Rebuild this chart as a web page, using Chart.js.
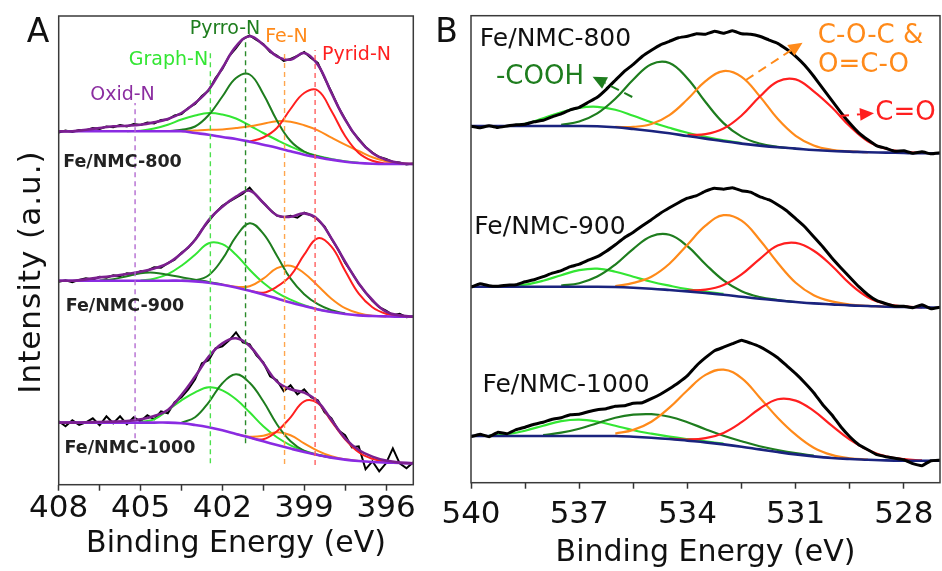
<!DOCTYPE html>
<html>
<head>
<meta charset="utf-8">
<script src="https://cdn.jsdelivr.net/npm/chart.js@4.4.1/dist/chart.umd.min.js"></script>
<style>
  html, body { margin: 0; padding: 0; background: #fff; }
  #wrap { position: relative; width: 942px; height: 571px; overflow: hidden; font-family: 'DejaVu Sans', sans-serif; }
  canvas { position: absolute; top: 0; }
  #chartA { left: 0; }
  #chartB { left: 440px; }
  .lbl { position: absolute; transform: translate(-50%, -50%); white-space: nowrap; line-height: 1; }
</style>
</head>
<body>
<div id="wrap">
  <canvas id="chartA" width="470" height="571" style="width:470px;height:571px"></canvas>
  <canvas id="chartB" width="502" height="571" style="width:502px;height:571px"></canvas>

  <div class="lbl" style="left:29px;top:272px;font-size:31px;letter-spacing:1px;color:#111;transform:translate(-50%,-50%) rotate(-90deg);">Intensity (a.u.)</div>

  <!-- panel A labels -->
  <div class="lbl" style="left:38px;top:29.5px;font-size:33px;color:#111">A</div>
  <div class="lbl" style="left:225px;top:27px;font-size:19px;color:#1e7d1e">Pyrro-N</div>
  <div class="lbl" style="left:286.5px;top:34.5px;font-size:19px;color:#ff8a1a">Fe-N</div>
  <div class="lbl" style="left:168.5px;top:57.8px;font-size:19px;color:#33e633">Graph-N</div>
  <div class="lbl" style="left:356.5px;top:53.3px;font-size:19px;color:#ff1f1f">Pyrid-N</div>
  <div class="lbl" style="left:122.5px;top:93px;font-size:19px;color:#8b2da0">Oxid-N</div>
  <div class="lbl" style="left:122.5px;top:162px;font-size:17.5px;font-weight:bold;color:#222">Fe/NMC-800</div>
  <div class="lbl" style="left:125px;top:306px;font-size:17.5px;font-weight:bold;color:#222">Fe/NMC-900</div>
  <div class="lbl" style="left:130px;top:448px;font-size:17.5px;font-weight:bold;color:#222">Fe/NMC-1000</div>

  <!-- panel B labels -->
  <div class="lbl" style="left:446.5px;top:29.5px;font-size:33px;color:#111">B</div>
  <div class="lbl" style="left:555.5px;top:37px;font-size:25px;color:#111">Fe/NMC-800</div>
  <div class="lbl" style="left:540px;top:75px;font-size:26px;color:#1e7d1e">-COOH</div>
  <div class="lbl" style="left:870.5px;top:34px;font-size:26px;color:#ff8a1a">C-O-C &amp;</div>
  <div class="lbl" style="left:863.5px;top:63px;font-size:26px;color:#ff8a1a">O=C-O</div>
  <div class="lbl" style="left:905.5px;top:111px;font-size:26px;color:#ff1f1f">C=O</div>
  <div class="lbl" style="left:550px;top:225px;font-size:25px;color:#111">Fe/NMC-900</div>
  <div class="lbl" style="left:566px;top:382.5px;font-size:25px;color:#111">Fe/NMC-1000</div>
</div>

<script>
// ---------- N 1s (panel A) ----------
var aGrid = [408, 407.5, 407, 406.5, 406, 405.5, 405, 404.5, 404, 403.5, 403, 402.5, 402, 401.5, 401, 400.5, 400, 399.5, 399, 398.5, 398, 397.5, 397, 396.5, 396, 395.5, 395];
var aFine = [408, 407.75, 407.5, 407.25, 407, 406.75, 406.5, 406.25, 406, 405.75, 405.5, 405.25, 405, 404.75, 404.5, 404.25, 404, 403.75, 403.5, 403.25, 403, 402.75, 402.5, 402.25, 402, 401.75, 401.5, 401.25, 401, 400.75, 400.5, 400.25, 400, 399.75, 399.5, 399.25, 399, 398.75, 398.5, 398.25, 398, 397.75, 397.5, 397.25, 397, 396.75, 396.5, 396.25, 396, 395.75, 395.5, 395.25, 395];
var aTicks = [408, 406.5, 405, 403.5, 402, 400.5, 399, 397.5, 396];
var aTickLabels = ['408', '', '405', '', '402', '', '399', '', '396'];
var aOffsets = [320.7, 168, 21.4];   // stacking offset for 800 / 900 / 1000

var a800Raw = [31.5, 33.5, 32, 34, 33.5, 36, 35, 37.5, 36.8, 39, 37.5, 40, 39, 41.5, 40.5, 44, 44.5, 48.5, 50, 56, 60, 68, 73.5, 86, 95, 108, 116, 125, 128.5, 124, 120, 112, 108.5, 103, 105, 108, 112, 106, 101, 86, 72, 57, 45, 33, 25, 17, 11.5, 7, 5, 2, 1.5, -0.5, 0.5];
var a800Fit = [32.7, 32.7, 34.3, 36, 37.7, 38.3, 39.3, 41.7, 45, 51, 61, 74.3, 96, 117.7, 127.7, 119.3, 107.7, 104.3, 111, 99.3, 71, 44.3, 24.3, 11, 4.3, 1, 0];
var a800Base = [32.7, 32.7, 32.7, 32.7, 32.7, 32.7, 32.7, 32.7, 32.7, 32.7, 31, 29.3, 27, 25, 22.3, 19.3, 16.3, 12.7, 9.3, 6.7, 4.3, 2.3, 1, 0.3, 0, 0, 0];
var a800Graph = [null, null, null, null, null, 32.8, 33.3, 35.5, 39.3, 44.5, 48.5, 51, 49.5, 45.5, 38.5, 31, 24, 17.5, 12, 8, 5, 2.8, 1.3, null, null, null, null];
var a800Pyrro = [null, null, null, null, null, null, null, null, 32.9, 34.2, 37.5, 49, 67.5, 86, 89.5, 70, 43.5, 23, 12.5, 7.5, 4.5, null, null, null, null, null, null];
var a800FeN = [null, null, null, null, null, null, null, null, null, 32.7, 33.5, 34.3, 34.5, 36, 37.8, 40.3, 42.8, 42.2, 38.8, 33.7, 26.3, 19.3, 13, 6.8, 2.8, 0.8, 0.2];
var a800Pyrid = [null, null, null, null, null, null, null, null, null, null, null, null, null, null, 22.6, 26.5, 36, 55, 71, 73.5, 53, 28, 11, 3.2, 0.6, 0.1, null];

var a900Raw = [35, 36.5, 34.5, 36.8, 38.5, 37, 40, 39, 41.5, 40.5, 43.5, 42.5, 45.5, 46, 49.5, 49, 53.5, 57, 64, 69, 77, 87, 95.5, 104, 111, 115, 119, 123, 129, 121, 114, 107, 101, 99.5, 101, 99, 104, 101.5, 97, 90, 78, 67, 54, 44, 33, 24, 16, 9.5, 6, 1.5, 3, -0.5, 0.5];
var a900Fit = [36, 36, 37.3, 39.3, 40.7, 42.7, 45, 48.3, 53.3, 63.3, 76.7, 96.7, 110, 120, 126, 114, 101.3, 100, 103.3, 97.3, 78.3, 55, 33.3, 16.7, 5, 1.3, 0];
var a900Base = [36, 36, 36, 36, 36, 36, 36, 36, 36, 36, 35.3, 34, 32, 29.3, 26, 22.3, 18.3, 14.3, 10.7, 7.3, 4.7, 2.7, 1.3, 0.7, 0.3, 0, 0];
var a900Oxid = [null, null, null, 36.2, 37.5, 40.5, 43.5, 44, 42, 39.5, 37, 34.8, 32.3, null, null, null, null, null, null, null, null, null, null, null, null, null, null];
var a900Graph = [null, null, null, null, null, null, 36.2, 38, 42.5, 51, 62, 73.5, 72.5, 62, 47, 34, 24, 17, 11.5, 7.5, 4.8, null, null, null, null, null, null];
var a900Pyrro = [null, null, null, null, null, null, null, null, null, 36.2, 36.5, 41.5, 57.5, 80, 93.5, 83, 61, 38, 22.5, 12.5, 6.5, 3.2, null, null, null, null, null];
var a900FeN = [null, null, null, null, null, null, null, null, null, null, null, null, 32.3, 30, 30.5, 38, 48.5, 51, 43.5, 31, 18, 8.5, 3.5, 1, 0.3, null, null];
var a900Pyrid = [null, null, null, null, null, null, null, null, null, null, null, null, null, null, 26, 24, 30, 41, 62, 78.5, 70, 46, 23, 9.5, 3, 0.8, null];

var a1000Raw = [42, 37, 43, 38.5, 41, 45, 38, 47, 40, 47, 39, 46, 42, 48, 44, 52, 50, 61, 66, 74, 84, 100, 103, 115, 117, 123, 131, 121, 119, 108, 101, 87, 83, 72, 78, 69, 74, 66, 63, 51, 45, 33, 28, 16, 17, -6, 2, -8, 0, 15, 0, -5, 1];
var a1000Fit = [40.7, 40.7, 41, 41.3, 41.7, 42.3, 44, 47.3, 53.3, 68.3, 86.7, 106.7, 120, 125, 117.3, 100, 81.7, 74, 70.7, 61.7, 43.3, 25, 13.3, 6.7, 2.7, 0.7, 0];
var a1000Base = [40.7, 40.7, 40.7, 40.7, 40.7, 40.7, 40.7, 40.7, 40.7, 40, 38.3, 36, 33, 29.3, 25.7, 22, 18.3, 14.7, 11.3, 8.3, 5.7, 3.7, 2.3, 1.3, 0.7, 0.3, 0];
var a1000Graph = [null, null, null, null, null, null, 41.5, 44, 53, 63, 71, 76, 73, 64, 51, 37, 26, 18, 12.5, 8.5, 5.8, null, null, null, null, null, null];
var a1000Pyrro = [null, null, null, null, null, null, null, null, null, 40.5, 46, 61, 80, 89, 80.5, 62, 39, 22, 12.5, 8.3, 5.7, null, null, null, null, null, null];
var a1000FeN = [null, null, null, null, null, null, null, null, null, null, null, null, null, 29.3, 26.5, 27.5, 31, 28, 20, 12.5, 7, 4, 2.4, null, null, null, null];
var a1000Pyrid = [null, null, null, null, null, null, null, null, null, null, null, null, null, null, 25.7, 24, 32, 46, 62, 60, 42, 24, 11, 4.5, 1.5, 0.4, null];

// peak-position guide lines (Oxid, Graph, Pyrro, Fe-N, Pyrid)
var guideEnergy = [405.2, 402.44, 401.15, 399.72, 398.6];
var guideTop = [381.7, 434.7, 446.7, 434.7, 434.7];
var guideBottom = [46.4, 21.4, 41.4, 20.7, 19.7];

// ---------- O 1s (panel B) ----------
var bGrid = [540, 539.5, 539, 538.5, 538, 537.5, 537, 536.5, 536, 535.5, 535, 534.5, 534, 533.5, 533, 532.5, 532, 531.5, 531, 530.5, 530, 529.5, 529, 528.5, 528, 527.5, 527];
var bFine = [540, 539.75, 539.5, 539.25, 539, 538.75, 538.5, 538.25, 538, 537.75, 537.5, 537.25, 537, 536.75, 536.5, 536.25, 536, 535.75, 535.5, 535.25, 535, 534.75, 534.5, 534.25, 534, 533.75, 533.5, 533.25, 533, 532.75, 532.5, 532.25, 532, 531.75, 531.5, 531.25, 531, 530.75, 530.5, 530.25, 530, 529.75, 529.5, 529.25, 529, 528.75, 528.5, 528.25, 528, 527.75, 527.5, 527.25, 527];
var bTicks = [540, 538.5, 537, 535.5, 534, 532.5, 531, 529.5, 528];
var bTickLabels = ['540', '', '537', '', '534', '', '531', '', '528'];
var bOffsets = [329.4, 175, 22];

var b800Raw = [27, 25.5, 27.5, 25.8, 27.3, 28.5, 29, 31.5, 33, 36.5, 39.5, 43.5, 46, 51, 56, 64, 73, 82, 89, 97, 103, 108.5, 112, 115.5, 117, 119.5, 119, 122, 120, 122.5, 119.5, 119, 117, 113.5, 110, 104, 97, 88, 77, 65, 53, 41, 30, 20.5, 13.5, 7.5, 5, 2, 2.5, 0, 1.5, -0.5, 0.5];
var b800Base = [27.3, 27.3, 27.3, 27.3, 27.3, 27.3, 27.3, 27, 26, 24.3, 22.3, 20, 17.3, 14.7, 12, 9.7, 7.7, 6, 4.7, 3.3, 2.3, 1.7, 1, 0.7, 0.3, 0, 0];
var b800Sat = [null, null, 27.3, 29.5, 35, 41, 45.5, 46.5, 43.5, 37.5, 31, 25.5, 20.5, 16.5, 13, 10.2, null, null, null, null, null, null, null, null, null, null, null];
var b800Cooh = [null, null, null, null, null, 28.5, 31.8, 39.9, 54.5, 73.8, 89.1, 90.2, 74.8, 51.3, 30.2, 16.7, 9.8, 6.5, 4.7, null, null, null, null, null, null, null, null];
var b800Coc = [null, null, null, null, null, null, null, null, 26.5, 26.4, 29.3, 38.2, 54, 72.2, 82.2, 76.5, 57.2, 34.5, 17.5, 7.8, 3.5, 1.9, 1, null, null, null, null];
var b800Co = [null, null, null, null, null, null, null, null, null, null, null, null, 18.5, 19.1, 24.7, 37.8, 56.5, 71.9, 73.9, 62, 46, 27, 12, 4.5, 1.5, 0.3, null];

var b900Raw = [20.5, 24, 22, 21.5, 22.5, 23, 26, 28, 31, 34.5, 37, 41, 43.5, 47.5, 51, 56.5, 63, 70, 75.5, 82, 88, 94.5, 100, 105, 109.5, 112, 116.5, 119.5, 118.5, 120, 117, 115.5, 111, 108, 103, 97, 89, 81, 71, 61, 50, 40, 30.5, 21, 13, 7, 4, 1.5, 1.5, 0, 3, -1, 0.5];
var b900Base = [21, 21, 21, 21, 21, 21, 21, 21, 20.7, 20, 19, 17.7, 16.3, 14.7, 13, 11, 9, 7.3, 5.7, 4.3, 3.3, 2.3, 1.7, 1, 0.7, 0.3, 0];
var b900Sat = [null, null, 21.3, 23, 27, 32.5, 37.5, 39, 36, 31, 26, 22, 18.5, 16, 13.8, null, null, null, null, null, null, null, null, null, null, null, null];
var b900Cooh = [null, null, null, null, null, 22, 24.5, 31.1, 43.1, 58.9, 71.5, 72.9, 61.5, 43.5, 27.3, 16.5, 10.7, 7.7, 5.7, null, null, null, null, null, null, null, null];
var b900Coc = [null, null, null, null, null, null, null, null, 21.5, 24.8, 31, 44, 63, 82, 92.5, 87, 68, 45, 25, 12.5, 6.3, 3.2, 1.9, 1, null, null, null];
var b900Co = [null, null, null, null, null, null, null, null, null, null, null, null, 17.2, 18, 22.7, 33.3, 48.6, 62.1, 64.8, 57, 42, 24, 10.5, 3.8, 1.3, 0.3, null];

var b1000Raw = [24, 26.5, 24, 28.5, 27, 31, 33.5, 36.5, 38.5, 41.5, 43, 46, 46.5, 49, 51, 52, 54.5, 55, 57.5, 58, 62, 66.5, 72, 78, 85, 95, 103, 110, 113.5, 117, 120.5, 117.5, 114, 109, 103, 95, 87, 78, 68, 56, 46, 34, 24, 16, 11, 6, 4, 2.5, 1, -3, -5, 0, 0.5];
var b1000Base = [24.7, 24.7, 24.7, 24.7, 24.7, 24.7, 24.7, 24.7, 24.7, 24, 23, 21.7, 20, 18.3, 16.3, 14, 11.3, 8.7, 6.3, 4.3, 2.7, 1.7, 1, 0.3, 0, 0, 0];
var b1000Sat = [null, 25, 26.5, 30, 35, 39.5, 41, 39, 35, 30.5, 27, 24, 21.5, 19.3, 17, null, null, null, null, null, null, null, null, null, null, null, null];
var b1000Cooh = [null, null, null, null, 25.5, 28, 32, 37.5, 43, 46, 46.5, 44, 38.5, 31.5, 25, 19.5, 14.5, 10.7, 7.5, 5, null, null, null, null, null, null, null];
var b1000Coc = [null, null, null, null, null, null, null, null, 27.1, 30.8, 39, 53, 70.5, 85.8, 91.1, 82.6, 63.3, 43, 26, 13, 5.8, 2.4, 1.1, null, null, null, null];
var b1000Co = [null, null, null, null, null, null, null, null, null, null, null, 22, 21.2, 22.5, 27.8, 38.5, 52, 61.5, 60.1, 49.8, 35.1, 21.1, 10.8, 4.4, 1.5, 0.4, null];

// colours
var PURPLE = '#7b1f8f', VIOLET = '#8a2be2', DKGREEN = '#1e7d1e', LTGREEN = '#33e633',
    ORANGE = '#ff8a1a', RED = '#ff1f1f', NAVY = '#1a237e', BLACK = '#000000';

Chart.defaults.font.family = "'DejaVu Sans', sans-serif";
Chart.defaults.color = '#111';

// build one line dataset from an x grid + value list (+ vertical stacking offset)
function line(xs, ys, off, color, width, order, extra) {
    var pts = [];
    xs.forEach(function (x, i) {
        if (ys[i] !== null) pts.push({ x: x, y: ys[i] + off });
    });
    var ds = {
        data: pts,
        borderColor: color,
        borderWidth: width,
        pointRadius: 0,
        tension: 0.4,
        fill: false,
        order: order
    };
    return Object.assign(ds, extra || {});
}

// box round the plot area
var framePlugin = {
    id: 'frame',
    afterDatasetsDraw: function (chart) {
        var a = chart.chartArea, ctx = chart.ctx;
        ctx.save();
        ctx.strokeStyle = '#3a3a3a';
        ctx.lineWidth = 1.5;
        ctx.strokeRect(a.left, a.top, a.right - a.left, a.bottom - a.top);
        ctx.restore();
    }
};

function xScale(min, max, ticks, labels, axisH, tickPad, titlePad) {
    return {
        type: 'linear', reverse: true, min: min, max: max,
        afterBuildTicks: function (s) {
            s.ticks = ticks.map(function (v) { return { value: v }; });
        },
        afterFit: function (s) {
            s.height = axisH;
            s.paddingLeft = 0;
            s.paddingRight = 0;
        },
        ticks: {
            autoSkip: false, maxRotation: 0, padding: tickPad, color: '#111',
            font: { size: 31 },
            callback: function (v, i) { return labels[i]; }
        },
        grid: { drawOnChartArea: false, drawTicks: true, tickLength: 6, tickColor: '#333', tickWidth: 1.5 },
        border: { display: false },
        title: { display: true, text: 'Binding Energy (eV)', color: '#111', font: { size: 30 }, padding: { top: 0, bottom: titlePad } }
    };
}

function yScale(max, width) {
    return {
        min: 0, max: max,
        ticks: { display: false },
        grid: { display: false },
        border: { display: false },
        afterFit: function (s) { s.width = width; }
    };
}

// ---------- Panel A ----------
var aSets = [
    [a800Raw, a800Fit, a800Base, null, a800Graph, a800Pyrro, a800FeN, a800Pyrid],
    [a900Raw, a900Fit, a900Base, a900Oxid, a900Graph, a900Pyrro, a900FeN, a900Pyrid],
    [a1000Raw, a1000Fit, a1000Base, null, a1000Graph, a1000Pyrro, a1000FeN, a1000Pyrid]
];
var aDatasets = [];
aSets.forEach(function (s, k) {
    var off = aOffsets[k];
    aDatasets.push(line(aFine, s[0], off, BLACK, 2, 8, { tension: 0 }));
    aDatasets.push(line(aGrid, s[1], off, PURPLE, 2.6, 1));
    aDatasets.push(line(aGrid, s[2], off, VIOLET, 2.6, 2));
    if (s[3]) aDatasets.push(line(aGrid, s[3], off, DKGREEN, 2, 6));
    aDatasets.push(line(aGrid, s[4], off, LTGREEN, 2, 6));
    aDatasets.push(line(aGrid, s[5], off, DKGREEN, 2, 4));
    aDatasets.push(line(aGrid, s[6], off, ORANGE, 2, 5));
    aDatasets.push(line(aGrid, s[7], off, RED, 2, 3));
});
var guideColors = ['#b36bd1', '#4ce04c', '#2a8a2a', '#ffa64d', '#ff6060'];
guideEnergy.forEach(function (e, i) {
    aDatasets.push({
        data: [{ x: e, y: guideBottom[i] }, { x: e, y: guideTop[i] }],
        borderColor: guideColors[i], borderWidth: 1.4, borderDash: [5, 4],
        pointRadius: 0, fill: false, order: 0
    });
});

new Chart(document.getElementById('chartA').getContext('2d'), {
    type: 'line',
    data: { datasets: aDatasets },
    options: {
        responsive: false, animation: false, devicePixelRatio: 1,
        layout: { padding: { top: 16, right: 56.7, left: 0, bottom: 0 } },
        plugins: { legend: { display: false }, tooltip: { enabled: false } },
        scales: {
            x: xScale(395, 408, aTicks, aTickLabels, 86.3, 0, 8.5),
            y: yScale(468.7, 58.7)
        }
    },
    plugins: [framePlugin]
});

// ---------- Panel B ----------
var bSets = [
    [b800Raw, b800Base, b800Sat, b800Cooh, b800Coc, b800Co],
    [b900Raw, b900Base, b900Sat, b900Cooh, b900Coc, b900Co],
    [b1000Raw, b1000Base, b1000Sat, b1000Cooh, b1000Coc, b1000Co]
];
var bDatasets = [];
bSets.forEach(function (s, k) {
    var off = bOffsets[k];
    bDatasets.push(line(bFine, s[0], off, BLACK, 3, 1, { tension: 0.1 }));
    bDatasets.push(line(bGrid, s[1], off, NAVY, 2.6, 2));
    bDatasets.push(line(bGrid, s[2], off, LTGREEN, 2.2, 6));
    bDatasets.push(line(bGrid, s[3], off, DKGREEN, 2.2, 5));
    bDatasets.push(line(bGrid, s[4], off, ORANGE, 2.2, 4));
    bDatasets.push(line(bGrid, s[5], off, RED, 2.2, 3));
});

// annotation arrows in data units (energy, intensity)
var bArrows = [
    { from: [535.53, 385.7], to: [536.63, 406], color: DKGREEN, dash: [9, 6] },
    { from: [532.38, 402.7], to: [530.81, 440], color: ORANGE, dash: [9, 6] },
    { from: [529.8, 366.7], to: [528.83, 369.4], color: RED, dash: [10, 8] }
];
var arrowPlugin = {
    id: 'arrows',
    afterDatasetsDraw: function (chart) {
        var ctx = chart.ctx, sx = chart.scales.x, sy = chart.scales.y;
        bArrows.forEach(function (a) {
            var x1 = sx.getPixelForValue(a.from[0]), y1 = sy.getPixelForValue(a.from[1]);
            var x2 = sx.getPixelForValue(a.to[0]), y2 = sy.getPixelForValue(a.to[1]);
            var dx = x2 - x1, dy = y2 - y1, len = Math.sqrt(dx * dx + dy * dy);
            var ux = dx / len, uy = dy / len, head = 14, half = 6.5;
            var bx = x2 - ux * head, by = y2 - uy * head;
            ctx.save();
            ctx.strokeStyle = a.color;
            ctx.fillStyle = a.color;
            ctx.lineWidth = 2;
            ctx.setLineDash(a.dash);
            ctx.beginPath();
            ctx.moveTo(x1, y1);
            ctx.lineTo(bx, by);
            ctx.stroke();
            ctx.setLineDash([]);
            ctx.beginPath();
            ctx.moveTo(x2, y2);
            ctx.lineTo(bx - uy * half, by + ux * half);
            ctx.lineTo(bx + uy * half, by - ux * half);
            ctx.closePath();
            ctx.fill();
            ctx.restore();
        });
    }
};

new Chart(document.getElementById('chartB').getContext('2d'), {
    type: 'line',
    data: { datasets: bDatasets },
    options: {
        responsive: false, animation: false, devicePixelRatio: 1,
        layout: { padding: { top: 15.7, right: 2, left: 0, bottom: 0 } },
        plugins: { legend: { display: false }, tooltip: { enabled: false } },
        scales: {
            x: xScale(527, 540, bTicks, bTickLabels, 88.3, 7.4, 0),
            y: yScale(467, 31)
        }
    },
    plugins: [framePlugin, arrowPlugin]
});
</script>
</body>
</html>
